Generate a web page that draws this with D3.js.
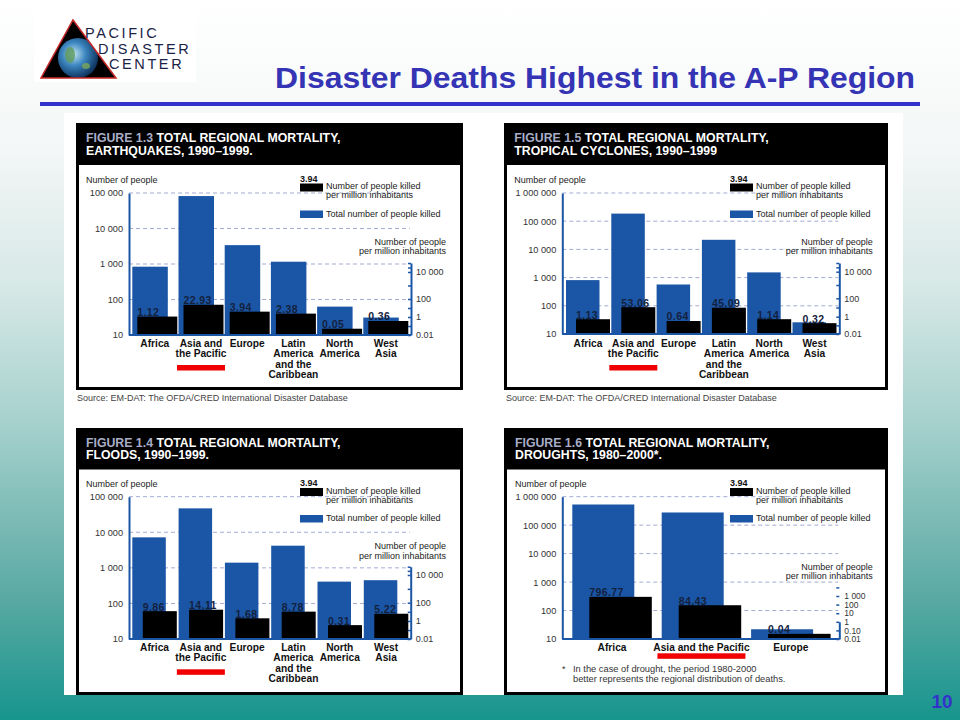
<!DOCTYPE html>
<html>
<head>
<meta charset="utf-8">
<script src="https://cdnjs.cloudflare.com/ajax/libs/d3/7.8.5/d3.min.js"></script>
<style>
  body { margin: 0; }
  svg text { font-family: "Liberation Sans", Arial, sans-serif; }
</style>
</head>
<body>
<div id="slide"></div>
<script>
// ---- data ----
const regions = ["Africa", "Asia and the Pacific", "Europe", "Latin America and the Caribbean", "North America", "West Asia"];
const regionLines = [["Africa"], ["Asia and", "the Pacific"], ["Europe"], ["Latin", "America", "and the", "Caribbean"], ["North", "America"], ["West", "Asia"]];
const droughtRegions = ["Africa", "Asia and the Pacific", "Europe"];
const droughtLines = [["Africa"], ["Asia and the Pacific"], ["Europe"]];
const highlighted = "Asia and the Pacific";

const quakeTotal = [840, 82000, 3400, 1160, 63, 31];
const quakePerMillion = [1.12, 22.93, 3.94, 2.38, 0.05, 0.36];
const cycloneTotal = [815, 186000, 570, 21900, 1530, 26];
const cyclonePerMillion = [1.13, 53.06, 0.64, 45.09, 1.14, 0.32];
const floodTotal = [7200, 47000, 1400, 4200, 410, 450];
const floodPerMillion = [9.86, 14.11, 1.68, 8.78, 0.31, 5.22];
const droughtTotal = [532000, 279000, 22];
const droughtPerMillion = [796.77, 84.43, 0.04];

const figureNumbers = ["FIGURE 1.3", "FIGURE 1.5", "FIGURE 1.4", "FIGURE 1.6"];
const figureLine1 = "TOTAL REGIONAL MORTALITY,";
const figureLine2 = ["EARTHQUAKES, 1990\u20131999.", "TROPICAL CYCLONES, 1990\u20131999", "FLOODS, 1990\u20131999.", "DROUGHTS, 1980\u20132000*."];

const leftTicks5 = [10, 100, 1000, 10000, 100000];
const leftTicks6 = [10, 100, 1000, 10000, 100000, 1000000];
const rightTicks = [0.01, 0.1, 1, 10, 100, 1000, 10000, 100000, 1000000];
const rightLabels = [0.01, 1, 100, 10000];
const droughtRightTicks = [0.01, 0.1, 1, 10, 100, 1000, 10000];
const droughtRightLabels = [0.01, 0.1, 1, 10, 100, 1000];

const legendSample = "3.94";
const legendBlack = ["Number of people killed", "per million inhabitants"];
const legendBlue = "Total number of people killed";
const rightTitle = ["Number of people", "per million inhabitants"];
const sourceText = "Source: EM-DAT: The OFDA/CRED International Disaster Database";
const droughtNote = ["In the case of drought, the period 1980-2000", "better represents the regional distribution of deaths."];

const BLUE = "#1b56a6";
const fmtBig = v => d3.format(",")(v).replace(/,/g, " ");
const fmtRight = v => v < 1 ? v.toFixed(2) : fmtBig(v);

const svg = d3.select("#slide").append("svg")
  .attr("width", 960)
  .attr("height", 720)
  .style("display", "block");

// background gradient
const defs = svg.append("defs");
const bg = defs.append("linearGradient").attr("id", "bg").attr("x1", 0).attr("y1", 0).attr("x2", 0).attr("y2", 1);
[[0, "#ffffff"], [0.2, "#f4f7f7"], [0.4, "#d6e8e6"], [0.6, "#a2cfcb"], [0.83, "#5aa9a3"], [1, "#16958d"]]
  .forEach(s => bg.append("stop").attr("offset", s[0]).attr("stop-color", s[1]));
const globe = defs.append("radialGradient").attr("id", "globe").attr("cx", 0.4).attr("cy", 0.4).attr("r", 0.65);
[[0, "#bfe3ef"], [0.45, "#3c86c0"], [1, "#0a2b55"]]
  .forEach(s => globe.append("stop").attr("offset", s[0]).attr("stop-color", s[1]));
defs.append("clipPath").attr("id", "tri")
  .append("path").attr("d", "M73,20 L116,78 L41,78 Z");

svg.append("rect").attr("width", 960).attr("height", 720).attr("fill", "url(#bg)");

// logo
svg.append("rect").attr("x", 34).attr("y", 15).attr("width", 162).attr("height", 67).attr("fill", "#fff");
svg.append("path").attr("d", "M73,20 L116,78 L41,78 Z").attr("fill", "#000");
const lg = svg.append("g").attr("clip-path", "url(#tri)");
lg.append("circle").attr("cx", 78).attr("cy", 58).attr("r", 20).attr("fill", "url(#globe)");
lg.append("ellipse").attr("cx", 70).attr("cy", 55).attr("rx", 5).attr("ry", 8).attr("fill", "#5f9a5a").attr("opacity", 0.8);
lg.append("ellipse").attr("cx", 86).attr("cy", 66).attr("rx", 4).attr("ry", 3).attr("fill", "#7aa85a").attr("opacity", 0.8);
svg.append("path").attr("d", "M73,20 L116,78 L41,78 Z").attr("fill", "none").attr("stroke", "#c62828").attr("stroke-width", 1.5);
[["PACIFIC", 85, 38], ["DISASTER", 98, 53.5], ["CENTER", 109, 69]].forEach(t => {
  svg.append("text").attr("x", t[1]).attr("y", t[2]).text(t[0])
    .attr("font-size", 14.5).attr("letter-spacing", 2.6).attr("fill", "#1a2346");
});

// slide title and rule
svg.append("text").attr("x", 915).attr("y", 88).attr("text-anchor", "end")
  .attr("font-size", 30).attr("font-weight", "bold").attr("fill", "#3434b4")
  .attr("textLength", 640).attr("lengthAdjust", "spacingAndGlyphs")
  .text("Disaster Deaths Highest in the A-P Region");
svg.append("rect").attr("x", 40).attr("y", 102).attr("width", 880).attr("height", 4).attr("fill", "#3333cc");

// white panel
svg.append("rect").attr("x", 64).attr("y", 113).attr("width", 839).attr("height", 582).attr("fill", "#fff");

// page number
svg.append("text").attr("x", 942).attr("y", 708).attr("text-anchor", "middle")
  .attr("font-size", 19).attr("font-weight", "bold").attr("fill", "#3333cc").text("10");

function drawChart(cfg) {
  const g = svg.append("g");
  const rows = cfg.cats.map((c, i) => ({ cat: c, lines: cfg.lines[i], total: cfg.total[i], pm: cfg.pm[i] }));

  // frame + title bar
  g.append("rect").attr("x", cfg.x + 1.5).attr("y", cfg.y + 1.5).attr("width", cfg.w - 3).attr("height", cfg.h - 3)
    .attr("fill", "#fff").attr("stroke", "#000").attr("stroke-width", 3);
  g.append("rect").attr("x", cfg.x).attr("y", cfg.y).attr("width", cfg.w).attr("height", cfg.barBottom - cfg.y).attr("fill", "#000");
  const t1 = g.append("text").attr("x", cfg.tx).attr("y", cfg.t1).attr("font-size", 12.3).attr("font-weight", "bold");
  t1.append("tspan").attr("fill", "#a9aec8").text(cfg.figNum + " ");
  t1.append("tspan").attr("fill", "#fff").text(figureLine1);
  g.append("text").attr("x", cfg.tx).attr("y", cfg.t2).attr("font-size", 12.3).attr("font-weight", "bold")
    .attr("fill", "#fff").text(cfg.figLine2);

  // scales
  const y = d3.scaleLog().domain([cfg.leftTicks[0], cfg.leftTicks[cfg.leftTicks.length - 1]]).range([cfg.base, cfg.top]);
  const yPM = d3.scaleLog().domain([0.01, 1]).range([cfg.base, cfg.base - 2 * cfg.pmDec]);
  const yPMAxis = cfg.pmAxis
    ? d3.scaleLog().domain([0.01, 1, 100, 10000, 1000000]).range(cfg.pmAxis.map(o => cfg.base - o))
    : yPM;
  const x = d3.scaleBand().domain(cfg.cats).range([cfg.bandStart, cfg.bandStart + cfg.step * cfg.cats.length]);
  const groupW = cfg.blackOff + cfg.blackW;

  // dashed grid
  g.selectAll(".grid").data(cfg.leftTicks.slice(1)).join("line")
    .attr("x1", cfg.axisX).attr("x2", cfg.rAxisX - 1)
    .attr("y1", d => y(d)).attr("y2", d => y(d))
    .attr("stroke", "#a3abd2").attr("stroke-width", 1).attr("stroke-dasharray", "4,3");

  g.append("text").attr("x", cfg.tx).attr("y", cfg.nopY).attr("font-size", 9).attr("fill", "#222").text("Number of people");

  // bars
  g.selectAll(".tot").data(rows).join("rect")
    .attr("x", d => x(d.cat)).attr("y", d => y(d.total))
    .attr("width", cfg.blueW).attr("height", d => cfg.base - y(d.total))
    .attr("fill", BLUE);
  g.selectAll(".pm").data(rows).join("rect")
    .attr("x", d => x(d.cat) + cfg.blackOff).attr("y", d => yPM(d.pm))
    .attr("width", cfg.blackW).attr("height", d => cfg.base - yPM(d.pm))
    .attr("fill", "#000");
  g.selectAll(".val").data(rows).join("text")
    .attr("x", d => x(d.cat) + cfg.blackOff).attr("y", d => yPM(d.pm) - 0.5)
    .attr("font-size", 10.5).attr("font-weight", "bold").attr("letter-spacing", 0.4).attr("fill", "#14213d")
    .text(d => d.pm.toFixed(2));

  // axes
  const left = g.append("g").attr("transform", `translate(${cfg.axisX},0)`)
    .call(d3.axisLeft(y).tickValues(cfg.leftTicks).tickSize(0).tickSizeOuter(0).tickPadding(6).tickFormat(fmtBig));
  left.select(".domain").attr("stroke", BLUE).attr("stroke-width", 2);
  left.selectAll("text").attr("font-size", 9.2).attr("fill", "#333").attr("font-family", null);

  g.append("line").attr("x1", cfg.axisX).attr("x2", cfg.rAxisX)
    .attr("y1", cfg.base).attr("y2", cfg.base).attr("stroke", BLUE).attr("stroke-width", 2);

  const labelSet = new Set(cfg.rightLabels);
  const right = g.append("g").attr("transform", `translate(${cfg.rAxisX},0)`)
    .call(d3.axisRight(yPMAxis).tickValues(cfg.rightTicks).tickSize(-3).tickSizeOuter(0).tickPadding(5)
      .tickFormat(v => labelSet.has(v) ? fmtRight(v) : ""));
  right.select(".domain").attr("stroke", BLUE).attr("stroke-width", 2);
  right.selectAll(".tick line").attr("stroke", BLUE).attr("stroke-width", 1.5);
  right.selectAll("text").attr("font-size", cfg.rightFont).attr("fill", "#333").attr("font-family", null);

  // category labels
  const lab = g.selectAll(".cat").data(rows).join("text")
    .attr("x", d => x(d.cat) + groupW / 2).attr("y", cfg.labY)
    .attr("text-anchor", "middle").attr("font-size", 10.2).attr("font-weight", "bold").attr("fill", "#111");
  lab.selectAll("tspan").data(d => d.lines).join("tspan")
    .attr("x", function () { return d3.select(this.parentNode).attr("x"); })
    .attr("dy", (d, i) => i === 0 ? 0 : 10.4)
    .text(d => d);

  // red highlight
  g.append("rect").attr("x", x(highlighted) + groupW / 2 - cfg.redW / 2).attr("y", cfg.redY)
    .attr("width", cfg.redW).attr("height", 5.5).attr("fill", "#f00000");

  // legend
  g.append("text").attr("x", cfg.legX).attr("y", cfg.legY).attr("font-size", 9).attr("font-weight", "bold")
    .attr("fill", "#111").text(legendSample);
  g.append("rect").attr("x", cfg.legX).attr("y", cfg.legY + 2).attr("width", 23).attr("height", 8).attr("fill", "#000");
  legendBlack.forEach((t, i) => g.append("text").attr("x", cfg.legX + 26).attr("y", cfg.legY + 7.5 + i * 9)
    .attr("font-size", 9).attr("fill", "#222").text(t));
  g.append("rect").attr("x", cfg.legX).attr("y", cfg.legY + 29).attr("width", 23).attr("height", 7.5).attr("fill", BLUE);
  g.append("text").attr("x", cfg.legX + 26).attr("y", cfg.legY + 35).attr("font-size", 9).attr("fill", "#222").text(legendBlue);

  rightTitle.forEach((t, i) => g.append("text").attr("x", cfg.rtX).attr("y", cfg.rtY + i * 9.3)
    .attr("text-anchor", "end").attr("font-size", 9).attr("fill", "#222").text(t));

  if (cfg.srcY) {
    g.append("text").attr("x", cfg.srcX).attr("y", cfg.srcY).attr("font-size", 9).attr("fill", "#444").text(sourceText);
  }
  if (cfg.note) {
    g.append("text").attr("x", 562).attr("y", 671.5).attr("font-size", 9).attr("fill", "#333").text("*");
    cfg.note.forEach((t, i) => g.append("text").attr("x", 573).attr("y", 671.5 + i * 10)
      .attr("font-size", 9.3).attr("fill", "#333").text(t));
  }
}

drawChart({
  cats: regions, lines: regionLines, total: quakeTotal, pm: quakePerMillion,
  figNum: figureNumbers[0], figLine2: figureLine2[0],
  x: 76, y: 123, w: 387, h: 267, barBottom: 165, tx: 86, t1: 141.7, t2: 155, nopY: 183,
  axisX: 129, rAxisX: 411, base: 335, top: 193, leftTicks: leftTicks5,
  pmDec: 9, pmAxis: [0, 18, 36, 63, 72], rightTicks: rightTicks, rightLabels: rightLabels, rightFont: 9,
  bandStart: 132.3, step: 46.2, blueW: 35.5, blackOff: 5, blackW: 40,
  legX: 300, legY: 181.5, rtX: 446, rtY: 245, labY: 347, redY: 365, redW: 48,
  srcX: 77, srcY: 400.7
});

drawChart({
  cats: regions, lines: regionLines, total: cycloneTotal, pm: cyclonePerMillion,
  figNum: figureNumbers[1], figLine2: figureLine2[1],
  x: 504, y: 123, w: 384, h: 267, barBottom: 165, tx: 514.3, t1: 142.3, t2: 155, nopY: 183,
  axisX: 562.3, rAxisX: 839.3, base: 334, top: 193, leftTicks: leftTicks6,
  pmDec: 7.2, pmAxis: [0, 17.3, 35.7, 62.3, 71], rightTicks: rightTicks, rightLabels: rightLabels, rightFont: 9,
  bandStart: 566, step: 45.3, blueW: 33.5, blackOff: 10, blackW: 34,
  legX: 730, legY: 181.5, rtX: 872.7, rtY: 245, labY: 347, redY: 365, redW: 48,
  srcX: 506, srcY: 400.7
});

drawChart({
  cats: regions, lines: regionLines, total: floodTotal, pm: floodPerMillion,
  figNum: figureNumbers[2], figLine2: figureLine2[2],
  x: 76, y: 428, w: 387, h: 267, barBottom: 469.5, tx: 86, t1: 446.7, t2: 459.3, nopY: 486.7,
  axisX: 129, rAxisX: 410.7, base: 639, top: 496.7, leftTicks: leftTicks5,
  pmDec: 9.3, pmAxis: [0, 18, 36.3, 64, 72.3], rightTicks: rightTicks, rightLabels: rightLabels, rightFont: 9,
  bandStart: 132.3, step: 46.3, blueW: 33.5, blackOff: 10.5, blackW: 34,
  legX: 300, legY: 486, rtX: 446, rtY: 549.3, labY: 651, redY: 669.3, redW: 48
});

drawChart({
  cats: droughtRegions, lines: droughtLines, total: droughtTotal, pm: droughtPerMillion,
  figNum: figureNumbers[3], figLine2: figureLine2[3],
  x: 504, y: 428, w: 384, h: 267, barBottom: 469.5, tx: 515, t1: 446.7, t2: 459, nopY: 486.7,
  axisX: 562.3, rAxisX: 839.3, base: 639, top: 496.7, leftTicks: leftTicks6,
  pmDec: 8.6, pmAxis: null, rightTicks: droughtRightTicks, rightLabels: droughtRightLabels, rightFont: 8.5,
  bandStart: 572.3, step: 89.4, blueW: 62, blackOff: 17, blackW: 62.5,
  legX: 730, legY: 486, rtX: 872.7, rtY: 569.5, labY: 651, redY: 653.3, redW: 88,
  note: droughtNote
});
</script>
</body>
</html>
